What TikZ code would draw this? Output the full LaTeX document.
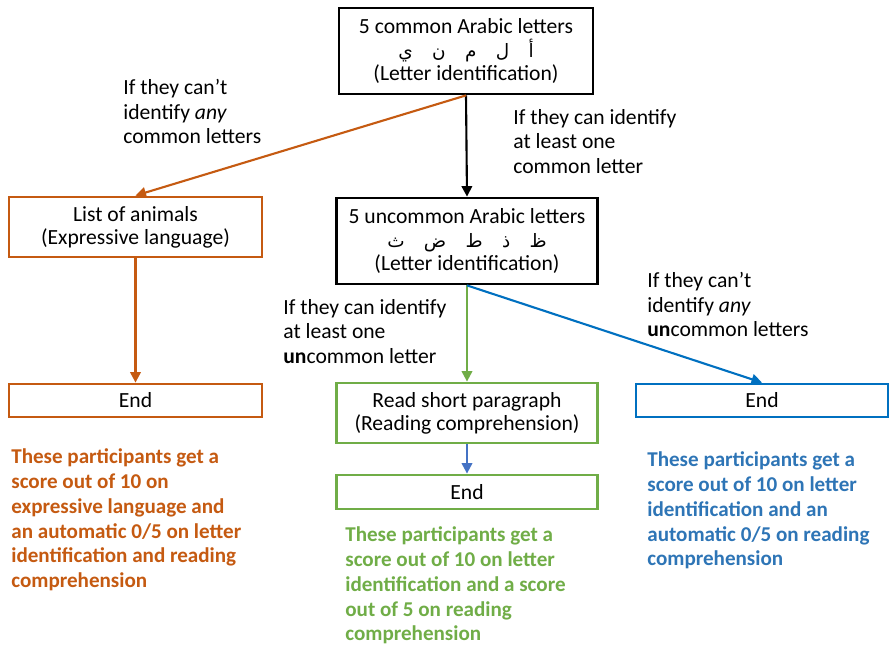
\documentclass[tikz,border=0pt]{standalone}
\usepackage{fontspec}
\setmainfont{Carlito}
\newfontfamily\arabicfont[Script=Arabic]{DejaVu Sans}
\TeXXeTstate=1
\usetikzlibrary{arrows.meta, positioning}
\definecolor{flowOrange}{HTML}{C55A11}
\definecolor{flowGreen}{HTML}{70AD47}
\definecolor{flowBlue}{HTML}{0070C0}
\definecolor{textBlue}{HTML}{2E75B6}
\definecolor{linkBlue}{HTML}{4472C4}
\newcommand{\arsep}{\hspace{1.05em}}

\begin{document}
\begin{tikzpicture}[
    x=0.02cm, y=-0.02cm,
    >={Triangle[length=6pt,width=6pt]},
    box/.style={draw, line width=1.6pt, align=center, inner sep=0pt, font=\fontsize{12.3}{13.2}\selectfont},
    cond/.style={anchor=north west, align=left, inner sep=0pt, font=\fontsize{12.3}{13.9}\selectfont},
    result/.style={anchor=north west, align=left, inner sep=0pt, font=\bfseries\fontsize{12}{14.2}\selectfont},
    link/.style={->, line width=1.2pt},
]
\useasboundingbox (0,0) rectangle (889,646);
\node[box, minimum width=5.08cm, minimum height=1.72cm] (common) at (466,51)
    {5 common Arabic letters\\
     {\arabicfont\fontsize{10.5}{12}\selectfont\beginR أ\arsep ل\arsep م\arsep ن\arsep ي\endR}\\
     (Letter identification)};
\node[box, minimum width=5.22cm, minimum height=1.72cm] (uncommon) at (467,241)
    {5 uncommon Arabic letters\\
     {\arabicfont\fontsize{10.5}{12}\selectfont\beginR ظ\arsep ذ\arsep ط\arsep ض\arsep ث\endR}\\
     (Letter identification)};
\node[box, flowOrange, text=black, minimum width=5.06cm, minimum height=1.2cm] (animals) at (135.5,227)
    {List of animals\\(Expressive language)};
\node[box, flowOrange, text=black, minimum width=5.06cm, minimum height=0.66cm] (endOrange) at (135.5,400.5) {End};
\node[box, flowGreen, text=black, minimum width=5.22cm, minimum height=1.2cm] (reading) at (467,413)
    {Read short paragraph\\(Reading comprehension)};
\node[box, flowGreen, text=black, minimum width=5.22cm, minimum height=0.68cm] (endGreen) at (467,492) {End};
\node[box, flowBlue, text=black, minimum width=5.04cm, minimum height=0.66cm] (endBlue) at (762,400.5) {End};

\draw[link] (common.south) -- (uncommon.north);
\draw[link, flowOrange] (common.south) -- (animals.north);
\draw[link, flowOrange] (animals) -- (endOrange);
\draw[link, flowGreen] (uncommon) -- (reading);
\draw[link, flowBlue] (uncommon.south) -- (endBlue.north);
\draw[link, linkBlue] (reading) -- (endGreen);

\node[cond] (noCommon) at (123,79) {If they can't\\identify \textit{any}\\common letters};
\node[cond] (someCommon) at (513,109) {If they can identify\\at least one\\common letter};
\node[cond] (noUncommon) at (647,272) {If they can't\\identify \textit{any}\\\textbf{un}common letters};
\node[cond] (someUncommon) at (283,299) {If they can identify\\at least one\\\textbf{un}common letter};

\node[result, text=flowOrange] (scoreOrange) at (11,448)
    {These participants get a\\score out of 10 on\\expressive language and\\an automatic 0/5 on letter\\identification and reading\\comprehension};
\node[result, text=flowGreen] (scoreGreen) at (345,526)
    {These participants get a\\score out of 10 on letter\\identification and a score\\out of 5 on reading\\comprehension};
\node[result, text=textBlue] (scoreBlue) at (647,451)
    {These participants get a\\score out of 10 on letter\\identification and an\\automatic 0/5 on reading\\comprehension};
\end{tikzpicture}
\end{document}
